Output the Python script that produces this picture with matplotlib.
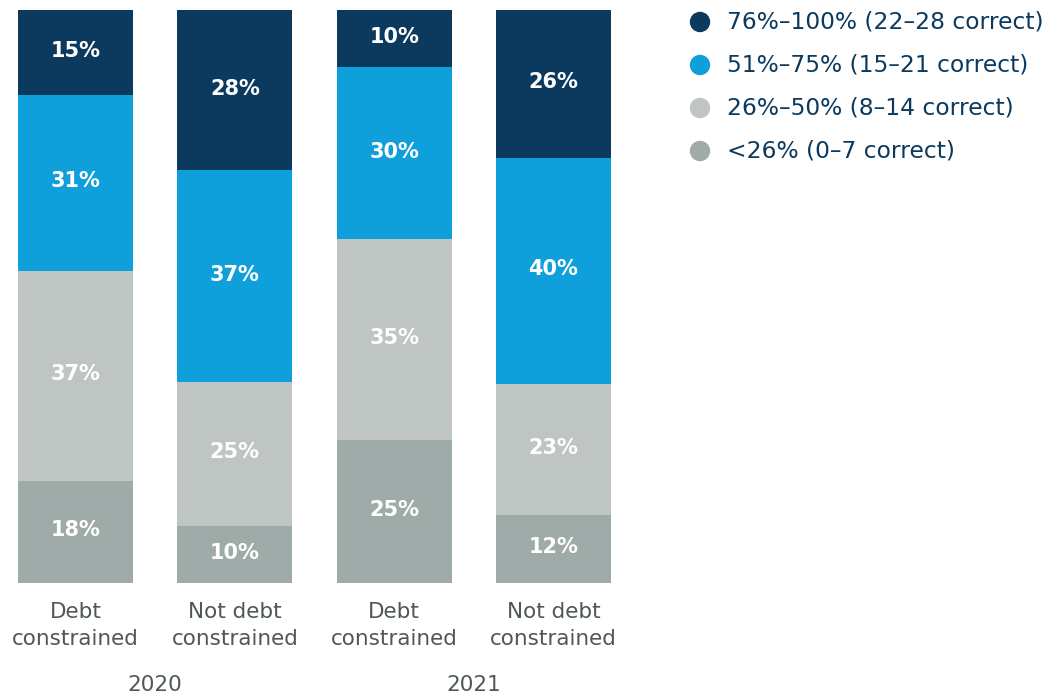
import matplotlib
matplotlib.use("Agg")
import matplotlib.pyplot as plt
import numpy as np

plt.rcParams['font.family'] = ['DejaVu Sans']

groups = ["Debt\nconstrained", "Not debt\nconstrained", "Debt\nconstrained", "Not debt\nconstrained"]
years = ["2020", "2021"]
series_names = ["<26% (0–7 correct)", "26%–50% (8–14 correct)",
                "51%–75% (15–21 correct)", "76%–100% (22–28 correct)"]
lt26 = [18, 10, 25, 12]
p26_50 = [37, 25, 35, 23]
p51_75 = [31, 37, 30, 40]
p76_100 = [15, 28, 10, 26]
colors = ["#9eaba8", "#bec5c2", "#0f9fdb", "#0b3a5e"]

W, H = 1054, 698
fig = plt.figure(figsize=(W / 100, H / 100), dpi=100)
ax = fig.add_axes([18 / W, (H - 583) / H, 593 / W, 573 / H])

data = np.array([lt26, p26_50, p51_75, p76_100], dtype=float)
totals = data.sum(axis=0)
norm = data / totals
x = np.arange(len(groups))
bw = 0.722
bottom = np.zeros(len(groups))
for i in range(4):
    ax.bar(x, norm[i], bw, bottom=bottom, color=colors[i], linewidth=0)
    for j in range(len(groups)):
        ax.text(x[j], bottom[j] + norm[i][j] / 2 + 0.003, f"{int(data[i][j])}%",
                ha="center", va="center", color="white", fontsize=15, fontweight="bold")
    bottom += norm[i]

ax.set_xlim(-bw / 2, 3 + bw / 2)
ax.set_ylim(0, 1)
ax.axis("off")

for j in range(len(groups)):
    ax.text(x[j], -0.033, groups[j], ha="center", va="top", color="#4f5757",
            fontsize=15.5, linespacing=1.45)
for k, yr in enumerate(years):
    ax.text(x[2 * k] + 0.5, -0.16, yr, ha="center", va="top", color="#4f5757", fontsize=15.5)

# legend
leg_y = [22, 65, 108, 151]
for k, idx in enumerate([3, 2, 1, 0]):
    yy = 1 - leg_y[k] / H
    fig.patches.append(matplotlib.patches.Ellipse((700 / W, yy), 19 / W, 19 / H,
                                                  transform=fig.transFigure, color=colors[idx]))
    fig.text(727 / W, yy, series_names[idx], ha="left", va="center", color="#0b3a5e", fontsize=16.8)

fig.savefig("out.png", dpi=100)
